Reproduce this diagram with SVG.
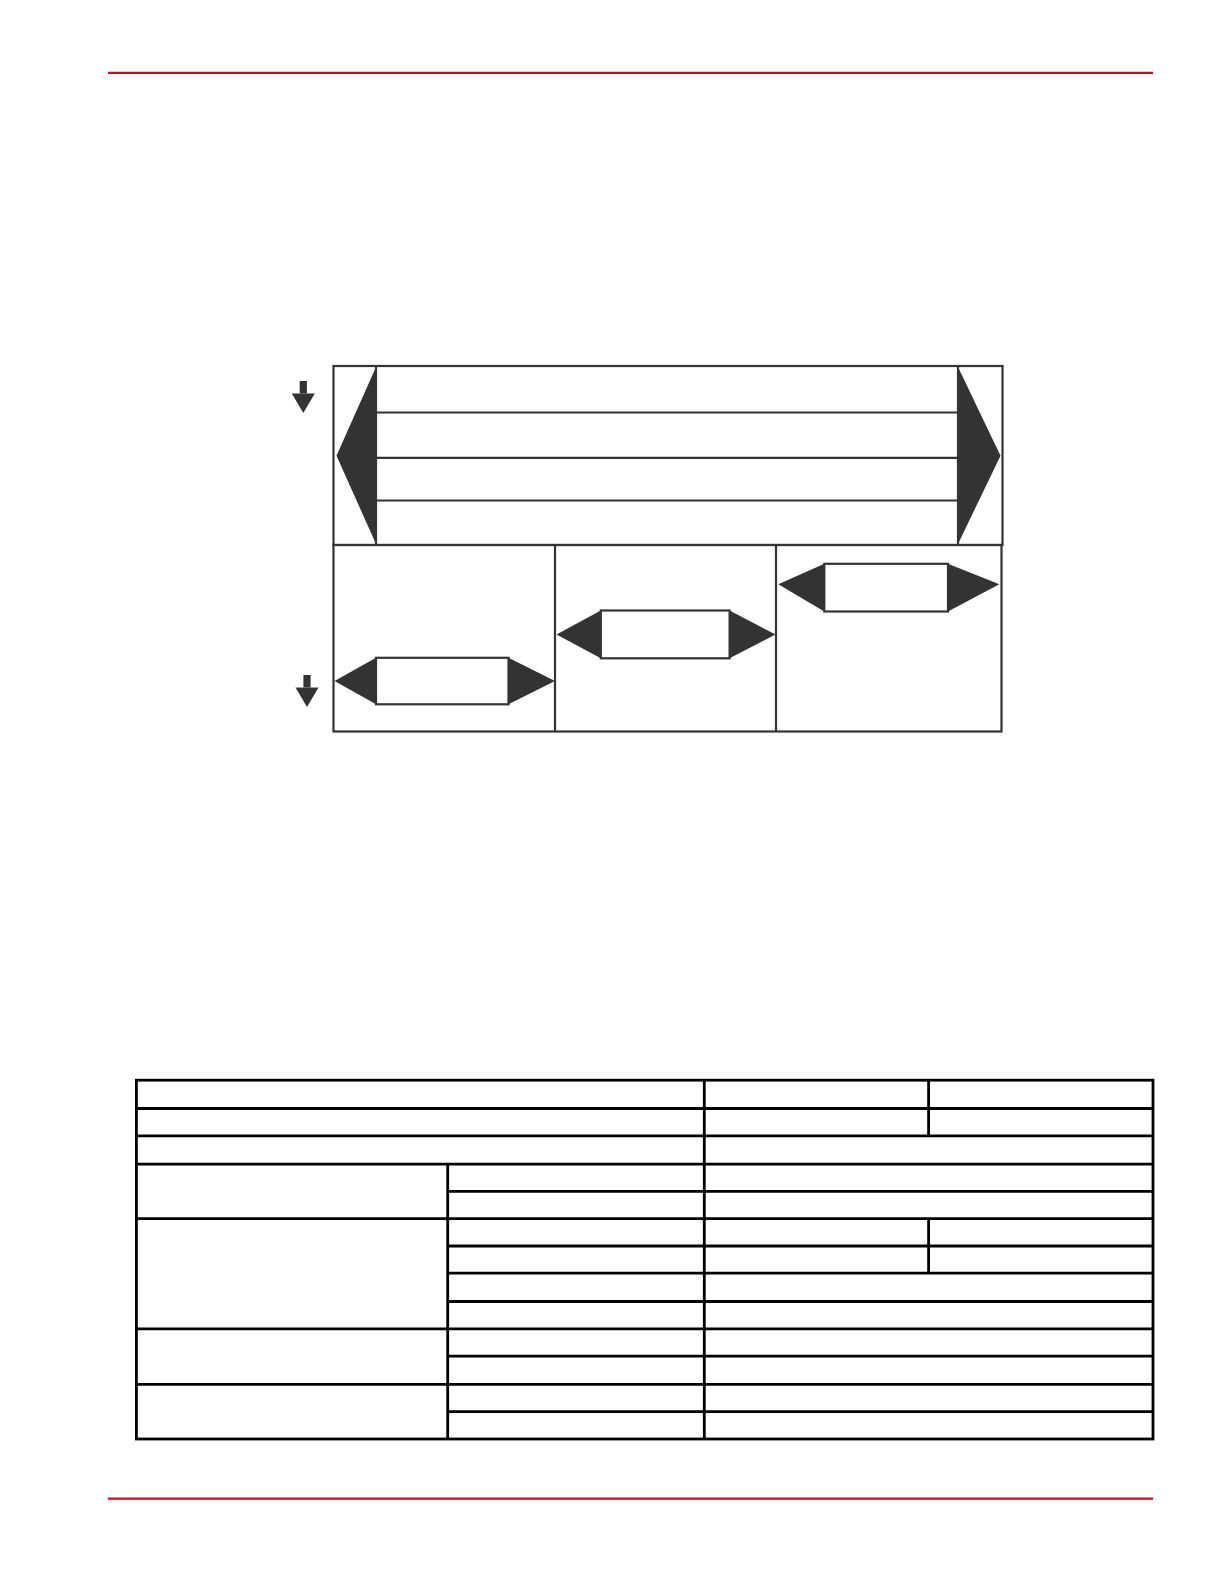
<svg xmlns="http://www.w3.org/2000/svg" width="1224" height="1584" viewBox="0 0 1224 1584">
<style>
.red{stroke:#e0001b;stroke-width:2.2;fill:none}
.ln{stroke:#333;stroke-width:2.2;fill:none}
.fill{fill:#333;stroke:none}
.box{fill:#fff;stroke:#333;stroke-width:2.2}
.tb{stroke:#000;stroke-width:2.8;fill:none}
</style>
<defs>
<g id="down">
<rect x="-3.6" y="0" width="7.2" height="12.5" class="fill"/>
<polygon points="-11.5,12.5 11.5,12.5 0,32" class="fill"/>
</g>
</defs>
<rect width="1224" height="1584" fill="#fff"/>
<g id="rules">
<line x1="108" y1="72.8" x2="1153" y2="72.8" class="red"/>
<line x1="108" y1="1498.6" x2="1153" y2="1498.6" class="red"/>
</g>
<g id="top-panel">
<rect x="333.5" y="366" width="669" height="179" class="ln"/>
<polygon points="376,367 376,544 336.5,455.7" class="fill"/>
<line x1="376" y1="367" x2="376" y2="544" class="ln"/>
<polygon points="958,367 958,544 1000.5,455.7" class="fill"/>
<line x1="958" y1="367" x2="958" y2="544" class="ln"/>
<line x1="376" y1="412.5" x2="958" y2="412.5" class="ln"/>
<line x1="376" y1="457.8" x2="958" y2="457.8" class="ln"/>
<line x1="376" y1="500.5" x2="958" y2="500.5" class="ln"/>
</g>
<g id="bottom-panel">
<rect x="333.5" y="545" width="668" height="186.5" class="ln"/>
<line x1="555" y1="545" x2="555" y2="731.5" class="ln"/>
<line x1="776" y1="545" x2="776" y2="731.5" class="ln"/>
</g>
<g id="bar1">
<polygon points="334.5,681 376,657.8 376,704.3" class="fill"/>
<polygon points="508.5,657.8 555,681 508.5,704.3" class="fill"/>
<rect x="376" y="657.8" width="132.5" height="46.5" class="box"/>
</g>
<g id="bar2">
<polygon points="556.5,634.5 600.8,610.5 600.8,658.3" class="fill"/>
<polygon points="729.6,610.5 775.5,634.5 729.6,658.3" class="fill"/>
<rect x="600.8" y="610.5" width="128.8" height="47.8" class="box"/>
</g>
<g id="bar3">
<polygon points="778.3,584.3 824.3,563.8 824.3,611.5" class="fill"/>
<polygon points="948,563.8 999.3,584.3 948,611.5" class="fill"/>
<rect x="824.3" y="563.8" width="123.7" height="47.7" class="box"/>
</g>
<g id="arrow1"><use href="#down" x="303.3" y="381"/></g>
<g id="arrow2"><use href="#down" x="307" y="675"/></g>
<g id="table">
<rect x="136.4" y="1080.2" width="1016.6" height="358.8" class="tb"/>
<g class="tb">
<line x1="136.4" y1="1108.5" x2="1153" y2="1108.5"/>
<line x1="136.4" y1="1135.8" x2="1153" y2="1135.8"/>
<line x1="136.4" y1="1164.1" x2="1153" y2="1164.1"/>
<line x1="447.7" y1="1191.4" x2="1153" y2="1191.4"/>
<line x1="136.4" y1="1218.7" x2="1153" y2="1218.7"/>
<line x1="447.7" y1="1246" x2="1153" y2="1246"/>
<line x1="447.7" y1="1273.2" x2="1153" y2="1273.2"/>
<line x1="447.7" y1="1301.5" x2="1153" y2="1301.5"/>
<line x1="136.4" y1="1328.8" x2="1153" y2="1328.8"/>
<line x1="447.7" y1="1356.1" x2="1153" y2="1356.1"/>
<line x1="136.4" y1="1384.4" x2="1153" y2="1384.4"/>
<line x1="447.7" y1="1411.7" x2="1153" y2="1411.7"/>
<line x1="704.3" y1="1080.2" x2="704.3" y2="1439"/>
<line x1="928.6" y1="1080.2" x2="928.6" y2="1135.8"/>
<line x1="928.6" y1="1218.7" x2="928.6" y2="1273.2"/>
<line x1="447.7" y1="1164.1" x2="447.7" y2="1439"/>
</g>
</g>
</svg>
